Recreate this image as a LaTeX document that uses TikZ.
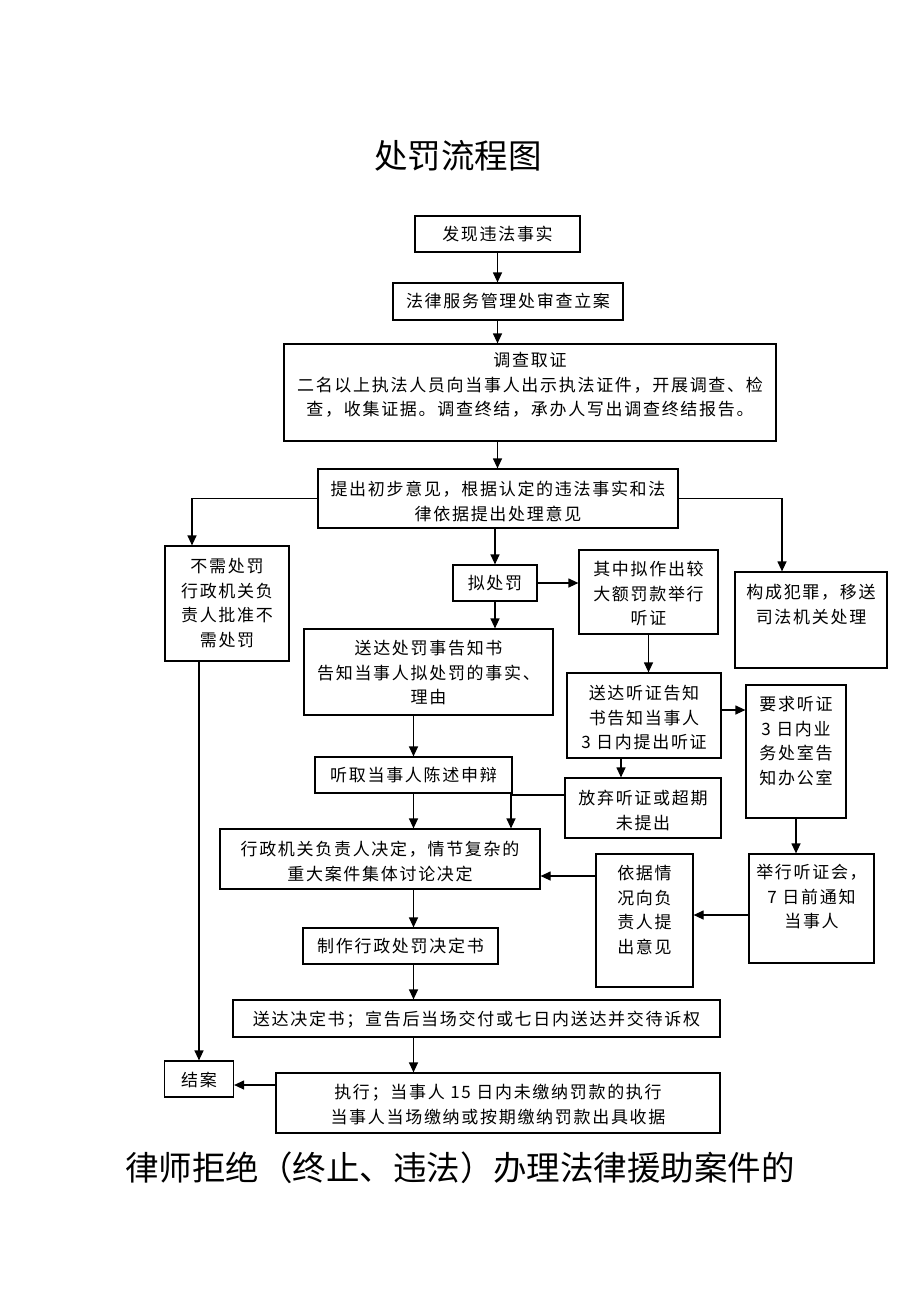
\documentclass[tikz,border=0pt]{standalone}
\usepackage{fontspec}
\usepackage{tikz}
\usetikzlibrary{arrows.meta}
\newfontfamily\cjk{Noto Sans CJK SC}
\newfontfamily\cjkbox[LetterSpace=10]{Noto Sans CJK SC}

\tikzset{
  stepbox/.style 2 args={draw, line width=1.2pt, align=center, inner sep=0pt,
    font=\cjkbox\fontsize{17}{24.5}\selectfont, text height=#1, text depth=#2},
  flow/.style={line width=1.2pt, -{Triangle[length=10pt,width=9pt]}},
  headline/.style={font=\cjk\fontsize{33.5}{36}\selectfont, inner sep=0pt},
}

\begin{document}
\begin{tikzpicture}[x=1pt, y=-1pt]
    \useasboundingbox (0,0) rectangle (920,1302);

    \node[headline] (title) at (458,156) {处罚流程图};

    \node[stepbox={24.5pt}{11.5pt}, minimum width=165pt] (find) at (497.5,234) {发现违法事实};
    \node[stepbox={24.5pt}{12.5pt}, minimum width=230pt] (lian) at (508,301.5) {法律服务管理处审查立案};
    \node[stepbox={71.5pt}{25.5pt}, minimum width=492pt] (diaocha) at (530,392.5)
        {调查取证\\二名以上执法人员向当事人出示执法证件，开展调查、检\\查，收集证据。调查终结，承办人写出调查终结报告。};
    \node[stepbox={51pt}{8pt}, minimum width=360pt] (tichu) at (498,498.5)
        {提出初步意见，根据认定的违法事实和法\\律依据提出处理意见};

    % three branches
    \node[stepbox={100pt}{15pt}, minimum width=124pt] (buxu) at (227,603.5)
        {不需处罚\\行政机关负\\责人批准不\\需处罚};
    \node[stepbox={24.5pt}{11.5pt}, minimum width=84pt] (nichufa) at (495,583) {拟处罚};
    \node[stepbox={74.5pt}{9.5pt}, minimum width=139pt] (qizhong) at (648.5,592)
        {其中拟作出较\\大额罚款举行\\听证};
    \node[stepbox={51pt}{45pt}, minimum width=152pt] (fanzui) at (811,620)
        {构成犯罪，移送\\司法机关处理};

    \node[stepbox={74.5pt}{11.5pt}, minimum width=249pt] (songda) at (428.5,672)
        {送达处罚事告知书\\告知当事人拟处罚的事实、\\理由};
    \node[stepbox={75.5pt}{9.5pt}, minimum width=154pt] (tingzheng) at (644,715.5)
        {送达听证告知\\书告知当事人\\3 日内提出听证};
    \node[stepbox={99pt}{34pt}, minimum width=100pt] (yaoqiu) at (796,751.5)
        {要求听证\\3 日内业\\务处室告\\知办公室};
    \node[stepbox={51pt}{9pt}, minimum width=156pt] (fangqi) at (643,808)
        {放弃听证或超期\\未提出};
    \node[stepbox={24.5pt}{11.5pt}, minimum width=197pt] (tingqu) at (413.5,775) {听取当事人陈述申辩};
    \node[stepbox={51pt}{9pt}, minimum width=320pt] (jueding) at (380,859)
        {行政机关负责人决定，情节复杂的\\重大案件集体讨论决定};
    \node[stepbox={99pt}{34pt}, minimum width=97pt] (yiju) at (644.5,920.5)
        {依据情\\况向负\\责人提\\出意见};
    \node[stepbox={73.5pt}{35.5pt}, minimum width=125pt] (juxing) at (811.5,908.5)
        {举行听证会，\\7 日前通知\\当事人};
    \node[stepbox={24.5pt}{11.5pt}, minimum width=195pt] (zhizuo) at (400.5,946) {制作行政处罚决定书};
    \node[stepbox={25.5pt}{11.5pt}, minimum width=487pt] (jueshu) at (476.5,1018.5)
        {送达决定书；宣告后当场交付或七日内送达并交待诉权};
    \node[stepbox={25.5pt}{10.5pt}, minimum width=69pt] (jiean) at (199,1079) {结案};
    \node[stepbox={50pt}{10pt}, minimum width=444pt] (zhixing) at (498,1103)
        {执行；当事人 15 日内未缴纳罚款的执行\\当事人当场缴纳或按期缴纳罚款出具收据};

    \node[headline] (tail) at (460,1168) {律师拒绝（终止、违法）办理法律援助案件的};

    \draw[flow] (find.south) -- (find.south |- lian.north);
    \draw[flow] (find.south |- lian.south) -- (find.south |- diaocha.north);
    \draw[flow] (find.south |- diaocha.south) -- (find.south |- tichu.north);
    \draw[flow] (tichu.west) -| ([xshift=-35pt]buxu.north);
    \draw[flow] (tichu.east) -| ([xshift=-29pt]fanzui.north);
    \draw[flow] (nichufa.north |- tichu.south) -- (nichufa.north);
    \draw[flow] (nichufa.east) -- (nichufa.east -| qizhong.west);
    \draw[flow] (nichufa.south) -- (nichufa.south |- songda.north);
    \draw[flow] (qizhong.south) -- (qizhong.south |- tingzheng.north);
    \draw[flow] (tingqu.north |- songda.south) -- (tingqu.north);
    \draw[flow] ([yshift=5.5pt]tingzheng.east) -- ([yshift=5.5pt]tingzheng.east -| yaoqiu.west);
    \draw[flow] ([xshift=-23pt]tingzheng.south) -- ([xshift=-23pt]tingzheng.south |- fangqi.north);
    \draw[flow] ([yshift=13pt]fangqi.west) -| ([xshift=131pt]jueding.north);
    \draw[flow] (tingqu.south) -- (tingqu.south |- jueding.north);
    \draw[flow] (yaoqiu.south) -- (yaoqiu.south |- juxing.north);
    \draw[flow] ([yshift=-6.5pt]juxing.west) -- ([yshift=-6.5pt]juxing.west -| yiju.east);
    \draw[flow] ([yshift=-17pt]jueding.east -| yiju.west) -- ([yshift=-17pt]jueding.east);
    % main line down to the end
    \draw[flow] (tingqu.south |- jueding.south) -- (tingqu.south |- zhizuo.north);
    \draw[flow] (tingqu.south |- zhizuo.south) -- (tingqu.south |- jueshu.north);
    \draw[flow] (tingqu.south |- jueshu.south) -- (tingqu.south |- zhixing.north);
    \draw[flow] ([yshift=-6pt]jiean.east -| zhixing.west) -- ([yshift=-6pt]jiean.east);
    \draw[flow] (jiean.north |- buxu.south) -- (jiean.north);

\end{tikzpicture}
\end{document}
